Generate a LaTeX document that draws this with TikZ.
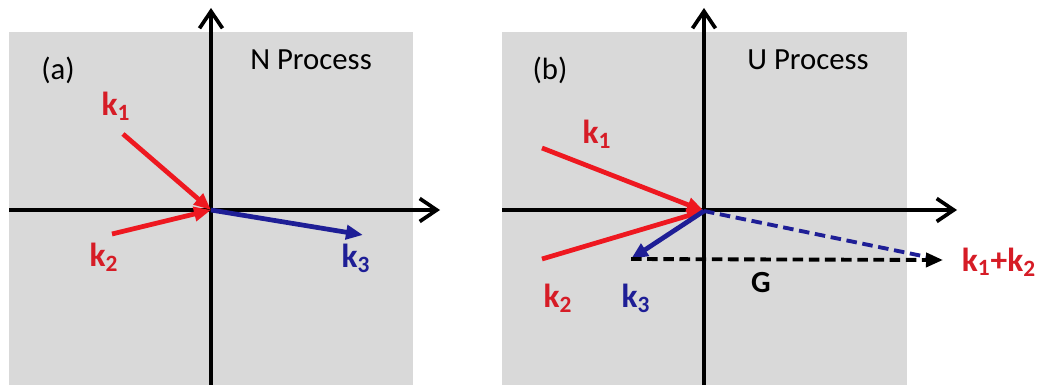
\documentclass[tikz,border=0pt]{standalone}
\usepackage{fontspec}
\setmainfont{Carlito}
\usetikzlibrary{arrows.meta}

\definecolor{panelgray}{RGB}{217,217,217}
\definecolor{kred}{RGB}{238,24,32}
\definecolor{kredtext}{RGB}{214,28,38}
\definecolor{kblue}{RGB}{30,30,150}

\begin{document}
\begin{tikzpicture}[
    x=0.02cm, y=-0.02cm,
    axis/.style={line width=2.1pt, -{Straight Barb[length=3.4mm, width=4.6mm, line width=2.1pt]}},
    kvec/.style={line width=2.7pt, -{Triangle[length=3.4mm, width=2.8mm]}},
    dashvec/.style={line width=2.2pt, dash pattern=on 6pt off 3.2pt},
    klabel/.style={font=\fontsize{19}{22}\selectfont\bfseries, text=kredtext, inner sep=0pt},
    tag/.style={font=\fontsize{17.5}{20}\selectfont, inner sep=0pt}
]
    \useasboundingbox (0,0) rectangle (1042,385);

    % (a) N process
    \fill[panelgray] (9,32) rectangle (413,385);
    \coordinate (Oa) at (211,210);
    \coordinate (ya0) at (211,385);
    \coordinate (ya1) at (211,8);
    \coordinate (xa0) at (9,210);
    \coordinate (xa1) at (440,210);
    \draw[axis] (ya0) -- (ya1);
    \draw[axis] (xa0) -- (xa1);

    \coordinate (k1a) at (123,134);
    \coordinate (k2a) at (112,234);
    \coordinate (k3a) at (363,235);
    \draw[kvec, kred] (k1a) -- (Oa);
    \draw[kvec, kred] (k2a) -- (Oa);
    \draw[kvec, kblue] (Oa) -- (k3a);

    \node[tag] (taga) at (58,70) {(a)};
    \node[tag] (namea) at (311,60) {N Process};
    \node[klabel] (lk1a) at (116,106) {k\textsubscript{1}};
    \node[klabel] (lk2a) at (104,257) {k\textsubscript{2}};
    \node[klabel, text=kblue] (lk3a) at (356,258) {k\textsubscript{3}};

    % (b) U process
    \fill[panelgray] (502,32) rectangle (907,385);
    \coordinate (Ob) at (704,211);
    \coordinate (yb0) at (704,385);
    \coordinate (yb1) at (704,8);
    \coordinate (xb0) at (502,210);
    \coordinate (xb1) at (957,210);
    \draw[axis] (yb0) -- (yb1);
    \draw[axis] (xb0) -- (xb1);

    \coordinate (k1b) at (542,148);
    \coordinate (k2b) at (542,259);
    \coordinate (k3b) at (631,259);
    \coordinate (sumb) at (943,260);
    \coordinate (sumbl) at (932,258);
    \draw[kvec, kred] (k1b) -- (Ob);
    \draw[kvec, kred] (k2b) -- (Ob);
    \draw[kvec, kblue] (Ob) -- (k3b);
    \draw[dashvec, kblue] (Ob) -- (sumbl);
    \draw[dashvec, black, -{Triangle[length=3.4mm, width=2.8mm]}] (k3b) -- (sumb);

    \node[tag] (tagb) at (550,70) {(b)};
    \node[tag] (nameb) at (808,60) {U Process};
    \node[klabel] (lk1b) at (597,134) {k\textsubscript{1}};
    \node[klabel] (lk2b) at (558,298) {k\textsubscript{2}};
    \node[klabel, text=kblue] (lk3b) at (636,298) {k\textsubscript{3}};
    \node[tag, font=\fontsize{17.5}{20}\selectfont\bfseries] (lG) at (761,283) {G};
    \node[klabel] (lsum) at (999,262) {k\textsubscript{1}+k\textsubscript{2}};
\end{tikzpicture}
\end{document}
